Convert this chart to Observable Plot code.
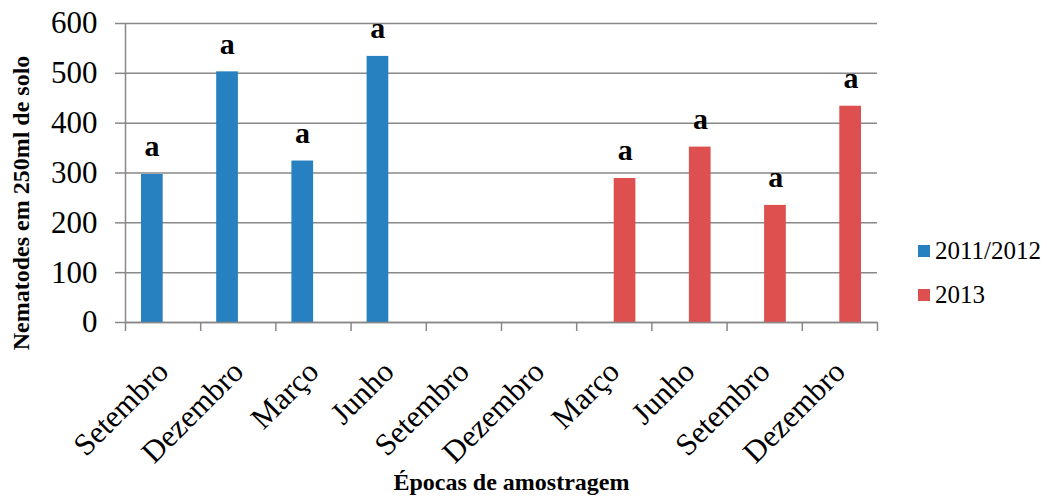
<!DOCTYPE html>
<html>
<head>
<meta charset="utf-8">
<script src="https://cdn.jsdelivr.net/npm/d3@7"></script>
<script src="https://cdn.jsdelivr.net/npm/@observablehq/plot@0.6"></script>
<style>
  html, body { margin: 0; padding: 0; background: #fff; }
  #chart { position: relative; width: 1047px; height: 497px; font-family: "Liberation Serif", "Times New Roman", serif; }
  #legend { position: absolute; left: 918px; top: 229px; font-size: 25px; color: #000; }
  #legend .item { display: flex; align-items: center; height: 44px; }
  #legend .swatch { width: 12px; height: 12px; margin-right: 5px; }
</style>
</head>
<body>
<div id="chart"></div>
<script>
// Sampling dates along the x axis (two campaigns)
const epocas = ["Setembro", "Dezembro", "Março", "Junho", "Setembro", "Dezembro", "Março", "Junho", "Setembro", "Dezembro"];

// Nematodes per 250 ml of soil
const valores20112012 = [297, 503, 324, 534, null, null, null, null, null, null];
const valores2013 = [null, null, null, null, null, null, 289, 352, 235, 434];

// Mean-separation letters above each bar
const letras20112012 = ["a", "a", "a", "a", null, null, null, null, null, null];
const letras2013 = [null, null, null, null, null, null, "a", "a", "a", "a"];

const series = ["2011/2012", "2013"];
const cores = ["#2780C0", "#DE5050"];
const yTicks = [0, 100, 200, 300, 400, 500, 600];

const tituloY = "Nematodes em 250ml de solo";
const tituloX = "Épocas de amostragem";

const toRows = (vals, letras, serie) =>
  vals.map((v, i) => ({i, epoca: epocas[i], valor: v, letra: letras[i], serie}))
      .filter(d => d.valor != null);

const rowsA = toRows(valores20112012, letras20112012, series[0]);
const rowsB = toRows(valores2013, letras2013, series[1]);

const gray = "#888888";
const boundaries = d3.range(0, epocas.length + 1);
const centers = epocas.map((_, i) => i + 0.5);

const plot = Plot.plot({
  width: 1047,
  height: 497,
  marginLeft: 125,
  marginRight: 170,
  marginTop: 23,
  marginBottom: 175,
  style: {fontFamily: "'Liberation Serif', 'Times New Roman', serif", background: "#fff", color: "#000"},
  x: {type: "linear", domain: [0, epocas.length]},
  y: {domain: [0, 600]},
  marks: [
    Plot.gridY(yTicks, {stroke: gray, strokeOpacity: 1, strokeWidth: 1.5}),
    Plot.axisY(yTicks, {tickSize: 10, tickPadding: 18, fontSize: 31, stroke: gray, strokeWidth: 1.5, fill: "#000", label: null}),
    Plot.axisX(boundaries, {tickSize: 9, tickFormat: () => "", stroke: gray, strokeWidth: 1.5, label: null}),
    Plot.axisX(centers, {tickSize: 0, tickPadding: 44, tickRotate: -45, fontSize: 31, fill: "#000",
      tickFormat: v => epocas[Math.floor(v)], label: null}),
    Plot.rectY(rowsA, {x1: d => d.i, x2: d => d.i + 1, y: "valor", fill: cores[0], insetLeft: 16, insetRight: 37.5}),
    Plot.rectY(rowsB, {x1: d => d.i, x2: d => d.i + 1, y: "valor", fill: cores[1], insetLeft: 37.5, insetRight: 16}),
    Plot.ruleX([0], {stroke: gray, strokeWidth: 1.5}),
    Plot.ruleY([0], {stroke: gray, strokeWidth: 1.5}),
    Plot.text(rowsA, {x: d => d.i + 0.5, y: "valor", text: "letra", dx: -11, dy: -18, lineAnchor: "bottom",
      fontSize: 30, fontWeight: "bold", fill: "#000"}),
    Plot.text(rowsB, {x: d => d.i + 0.5, y: "valor", text: "letra", dx: 11, dy: -18, lineAnchor: "bottom",
      fontSize: 30, fontWeight: "bold", fill: "#000"}),
    Plot.text([tituloY], {frameAnchor: "left", rotate: -90, dx: -104, dy: 30, lineAnchor: "middle",
      textAnchor: "middle", fontSize: 24, fontWeight: "bold", fill: "#000"}),
    Plot.text([tituloX], {frameAnchor: "bottom", dx: 10, dy: 167, lineAnchor: "bottom",
      textAnchor: "middle", fontSize: 24, fontWeight: "bold", fill: "#000"})
  ]
});

const chart = document.getElementById("chart");
chart.appendChild(plot);

// Legend to the right of the plot
const legend = document.createElement("div");
legend.id = "legend";
series.forEach((s, k) => {
  const item = document.createElement("div");
  item.className = "item";
  const sw = document.createElement("span");
  sw.className = "swatch";
  sw.style.background = cores[k];
  const lab = document.createElement("span");
  lab.textContent = s;
  item.appendChild(sw);
  item.appendChild(lab);
  legend.appendChild(item);
});
chart.appendChild(legend);
</script>
</body>
</html>
